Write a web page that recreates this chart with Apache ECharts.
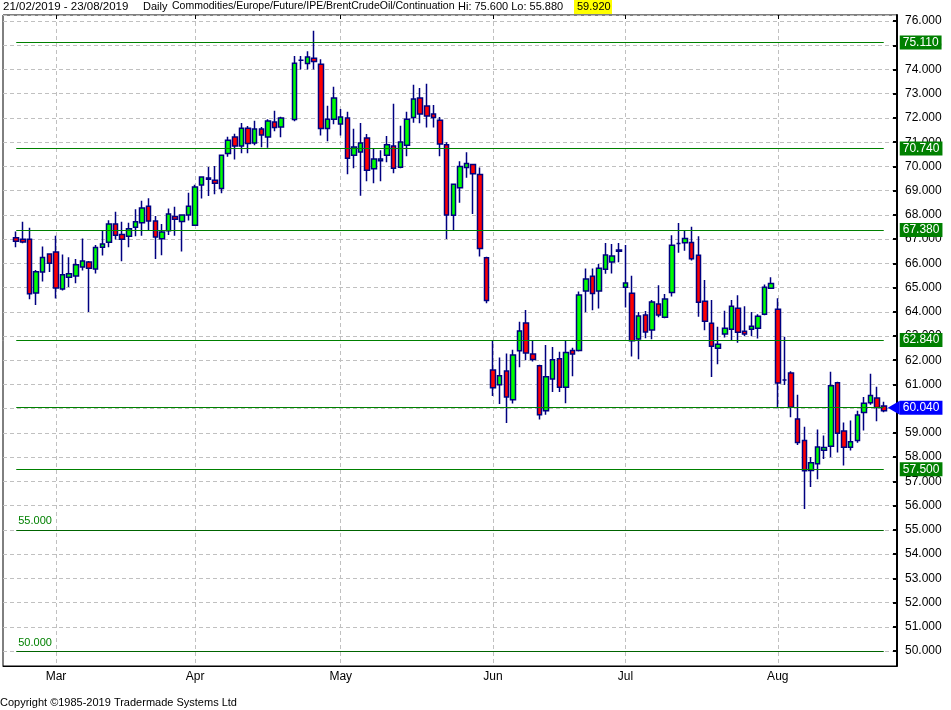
<!DOCTYPE html>
<html><head><meta charset="utf-8">
<script src="https://cdn.jsdelivr.net/npm/echarts@6/dist/echarts.min.js"></script>
<style>html,body{margin:0;padding:0;background:#fff}#c{width:951px;height:710px}</style>
</head><body><div id="c"></div>
<script>
// ---- data ----
const startDate = '2019-02-21';
const endDate = '2019-08-23';
const closedDays = ['2019-04-19'];
const opens = [67.06,66.99,66.99,64.78,65.64,66.39,66.47,64.94,65.43,65.48,65.85,66.06,65.77,66.66,66.87,67.62,67.19,67.12,67.49,67.67,68.36,67.75,67.01,67.34,67.93,67.73,67.99,67.57,69.23,69.47,69.43,69.09,70.53,71.21,70.84,71.58,70.97,71.54,71.21,71.83,71.63,null,71.94,74.38,74.25,74.47,74.22,71.57,71.95,71.75,72.00,70.46,70.60,71.17,69.90,70.23,70.46,70.84,69.97,70.87,72.02,72.82,72.49,72.16,71.91,70.89,67.98,69.12,69.96,70.08,69.67,66.23,61.60,60.99,61.56,60.37,62.39,63.54,62.26,61.77,59.92,61.23,62.06,60.89,62.40,62.40,64.86,65.47,64.86,65.76,66.05,66.50,65.01,64.77,62.88,63.87,63.25,64.32,63.77,64.80,66.82,66.85,66.86,66.33,64.43,63.53,62.50,63.08,63.28,64.15,63.20,63.28,63.32,63.90,64.97,64.10,61.18,61.47,59.58,58.69,57.45,57.73,58.29,58.45,61.07,59.08,58.41,58.69,59.84,60.25,60.44,60.11];
const closes = [66.91,66.88,64.74,65.65,66.24,66.00,64.98,65.53,65.57,65.94,66.10,65.80,66.65,66.80,67.62,67.16,66.99,67.43,67.72,68.28,67.75,67.09,67.29,68.04,67.82,67.99,68.36,69.15,69.56,69.52,69.31,70.46,71.08,70.84,71.58,70.95,71.54,71.30,71.87,71.61,72.00,null,74.26,74.38,74.52,74.33,71.57,71.95,72.82,72.04,70.34,70.80,70.97,69.84,70.31,70.31,70.89,69.92,71.01,71.95,72.78,72.16,72.08,72.02,70.93,68.00,69.26,70.00,70.12,69.70,66.61,64.47,60.86,61.36,60.48,62.22,63.21,62.30,62.03,59.75,61.32,62.02,60.89,62.32,62.26,64.69,65.35,64.76,65.80,66.34,66.30,66.55,65.19,62.80,63.83,63.17,64.40,63.87,64.53,66.75,66.82,67.03,66.19,64.39,63.61,62.58,62.66,63.32,64.23,63.16,63.08,63.40,63.82,65.01,65.17,61.06,61.18,60.06,58.60,57.44,57.77,58.42,58.40,60.95,58.99,58.41,58.64,59.74,60.22,60.55,60.05,59.92];
const lows = [66.66,66.83,64.52,64.28,65.25,65.64,64.55,64.88,65.02,65.18,65.70,63.99,65.58,66.32,66.66,66.98,66.09,66.66,67.12,67.14,67.38,66.18,66.33,67.17,67.14,66.49,67.77,67.57,68.68,68.78,68.85,68.89,70.40,70.29,70.54,70.54,70.87,70.79,70.77,71.45,71.20,null,71.86,74.00,74.00,74.00,71.28,71.04,71.74,71.28,69.68,69.92,68.79,69.39,69.31,69.39,70.17,69.72,69.92,70.42,71.80,71.78,71.61,71.61,70.42,67.00,67.33,68.50,69.53,68.04,66.28,64.35,60.52,60.19,59.41,60.21,61.71,62.00,61.95,59.55,59.75,60.69,60.69,60.23,61.34,62.36,63.98,64.06,64.14,65.57,65.58,66.04,64.18,62.15,62.04,62.91,62.87,63.77,63.73,64.63,66.44,66.52,66.12,63.80,63.24,61.31,61.83,62.94,62.81,62.72,62.99,62.99,62.90,63.86,64.97,60.02,60.98,59.65,58.50,55.86,56.77,57.09,57.92,58.00,58.19,57.66,58.27,58.59,59.10,60.16,59.48,59.85];
const highs = [67.31,67.72,67.47,65.73,66.69,66.39,67.14,66.36,66.25,66.18,67.03,66.10,66.76,67.38,67.78,68.13,67.72,67.68,68.23,68.58,68.69,67.95,67.62,68.26,68.34,68.00,68.91,69.24,69.56,69.98,70.02,70.46,71.22,71.35,71.79,71.67,71.89,71.63,71.95,72.30,72.05,null,74.56,74.56,74.75,75.60,74.42,72.50,73.29,72.37,72.26,71.56,71.79,71.34,70.75,70.67,71.26,72.59,71.68,72.26,73.37,73.24,73.41,72.54,72.04,71.00,69.30,70.21,70.59,70.08,69.96,66.27,62.80,62.11,62.28,62.43,63.59,64.07,62.84,61.81,62.63,62.55,62.35,62.80,62.52,64.84,65.79,65.79,65.97,66.84,66.80,66.84,66.76,65.49,63.99,64.03,64.49,65.10,64.73,67.16,67.66,67.33,67.51,67.12,65.31,64.49,63.38,64.04,64.49,64.68,64.23,63.99,63.90,65.13,65.43,64.56,62.97,61.55,60.58,59.26,58.01,59.14,58.89,61.53,61.11,59.43,59.51,59.92,60.48,61.44,60.91,60.29];
const boxedLevels = [75.11, 70.74, 67.38, 62.84, 57.50];
const lastLevel = 60.04;
const roundLevels = [55.0, 50.0];
const monthNames = ['Jan','Feb','Mar','Apr','May','Jun','Jul','Aug','Sep','Oct','Nov','Dec'];
const headerDates = '21/02/2019 - 23/08/2019';
const headerPeriod = 'Daily';
const headerSymbol = 'Commodities/Europe/Future/IPE/BrentCrudeOil/Continuation';
const headerHiLo = 'Hi: 75.600 Lo: 55.880';
const headerLast = '59.920';
const copyright = 'Copyright \u00a91985-2019 Tradermade Systems Ltd';

// ---- build weekday categories ----
const dates = [];
(function(){
  const d = new Date(startDate + 'T00:00:00Z'), e = new Date(endDate + 'T00:00:00Z');
  while (d <= e) {
    const wd = d.getUTCDay();
    if (wd !== 0 && wd !== 6) dates.push(d.toISOString().slice(0,10));
    d.setUTCDate(d.getUTCDate() + 1);
  }
})();
const PAD = 2;
const cats = [];
for (let i = 0; i < PAD; i++) cats.push('s' + i);
dates.forEach(d => cats.push(d));
for (let i = 0; i < PAD; i++) cats.push('e' + i);
const candleData = cats.map((c, i) => {
  const k = i - PAD;
  if (k < 0 || k >= dates.length || opens[k] == null) return '-';
  return [opens[k], closes[k], lows[k], highs[k]];
});
const monthStart = new Set();
dates.forEach((d, k) => {
  if (k === 0) return;
  if (d.slice(5,7) !== dates[k-1].slice(5,7)) monthStart.add(k + PAD);
});
const firstCat = dates[0], lastCat = dates[dates.length - 1];
const FONT = 'Liberation Sans';

const markLines = [];
boxedLevels.forEach(v => markLines.push([
  {coord:[firstCat, v], lineStyle:{color:'#008000', width:1, type:'solid'},
   label:{show:true, position:'end', distance:16, formatter: () => v.toFixed(3), color:'#fff',
     backgroundColor:'#008000', padding:[1,3,0,3], fontFamily:FONT, fontSize:12, lineHeight:13}},
  {coord:[lastCat, v]}
]));
markLines.push([
  {coord:[firstCat, lastLevel], lineStyle:{color:'#008000', width:1, type:'solid'},
   label:{show:true, position:'end', distance:16, formatter: () => lastLevel.toFixed(3), color:'#fff',
     backgroundColor:'#0000ff', padding:[1,3,0,3], fontFamily:FONT, fontSize:12, lineHeight:13}},
  {coord:[lastCat, lastLevel]}
]);
roundLevels.forEach(v => markLines.push([
  {coord:[firstCat, v], lineStyle:{color:'#006400', width:1, type:'solid'},
   label:{show:true, position:'insideStartTop', distance:[2,3], formatter: () => v.toFixed(3), color:'#008000',
     fontFamily:FONT, fontSize:11}},
  {coord:[lastCat, v]}
]));

const chart = echarts.init(document.getElementById('c'), null, {renderer:'canvas'});
chart.setOption({
  animation:false,
  backgroundColor:'#fff',
  grid:{left:3, top:15, right:54, bottom:44, show:true, borderColor:'#000', borderWidth:1, backgroundColor:'transparent'},
  xAxis:[{
    type:'category', data:cats, boundaryGap:false, position:'bottom',
    axisLine:{show:true, lineStyle:{color:'#000', width:1}},
    axisTick:{show:false},
    axisLabel:{interval:(i) => monthStart.has(i), formatter:(v) => monthNames[parseInt(v.slice(5,7),10)-1],
      color:'#000', fontFamily:FONT, fontSize:12, margin:5},
    splitLine:{show:true, interval:(i) => monthStart.has(i), lineStyle:{color:'#c0c0c0', type:[4,3], width:1}}
  },{
    type:'category', data:cats, boundaryGap:false, position:'top',
    axisLine:{show:false},
    axisTick:{show:true, inside:true, length:4, interval:(i) => monthStart.has(i), lineStyle:{color:'#000', width:1}},
    axisLabel:{show:false}, splitLine:{show:false}
  }],
  yAxis:{
    type:'value', position:'right', min:49.38, max:76.25, splitNumber:27, minInterval:1, maxInterval:1, scale:true,
    axisLine:{show:true, lineStyle:{color:'#000', width:2}},
    axisTick:{show:true, inside:true, length:4, lineStyle:{color:'#000', width:2}},
    axisLabel:{formatter:(v) => v.toFixed(3), showMinLabel:false, showMaxLabel:false, color:'#000',
      fontFamily:FONT, fontSize:12, margin:8},
    splitLine:{show:true, lineStyle:{color:'#c0c0c0', type:[4,3], width:1}}
  },
  series:[{
    type:'candlestick', data:candleData, barWidth:5, xAxisIndex:0,
    itemStyle:{color:'#00ff00', color0:'#ff0000', borderColor:'#000080', borderColor0:'#000080', borderWidth:1.5},
    markLine:{symbol:'none', silent:true, animation:false, data:markLines},
    markPoint:{silent:true, animation:false, data:[{coord:[lastCat, lastLevel], symbol:'triangle', symbolSize:[14,12],
      symbolRotate:90, symbolOffset:[10,0], itemStyle:{color:'#0000ff'}, label:{show:false}}]}
  }],
  graphic:[
    {type:'rect', left:574, top:0, shape:{width:38, height:14}, style:{fill:'#ffff00'}, z:0},
    {type:'text', left:3, top:1, style:{text:headerDates, font:'11.5px "Liberation Sans"', fill:'#000'}},
    {type:'text', left:143, top:1, style:{text:headerPeriod, font:'11px "Liberation Sans"', fill:'#000'}},
    {type:'text', left:172, top:1, style:{text:headerSymbol, font:'10.5px "Liberation Sans"', fill:'#000'}},
    {type:'text', left:458, top:1, style:{text:headerHiLo, font:'11px "Liberation Sans"', fill:'#000'}},
    {type:'text', left:577, top:1, style:{text:headerLast, font:'11px "Liberation Sans"', fill:'#000'}, z:1},
    {type:'text', left:0, top:697, style:{text:copyright, font:'11px "Liberation Sans"', fill:'#000'}}
  ]
});
</script></body></html>
